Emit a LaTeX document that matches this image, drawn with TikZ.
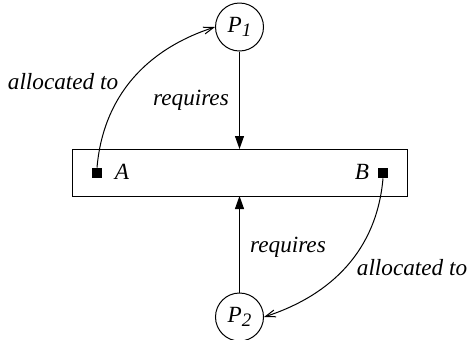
\documentclass[tikz,border=0pt]{standalone}
\usepackage{fontspec}
\setmainfont{Liberation Serif}
\usetikzlibrary{arrows.meta}
\begin{document}
\begin{tikzpicture}[x=0.5pt,y=-0.5pt,
  every node/.style={font=\fontsize{11.6}{13}\selectfont\itshape},
  proc/.style={draw,circle,line width=0.5pt,minimum size=24pt,inner sep=0pt},
  res/.style={draw,rectangle,line width=0.5pt,minimum width=167.5pt,minimum height=23.5pt,inner sep=0pt},
  port/.style={fill=black,rectangle,minimum size=5pt,inner sep=0pt},
  req/.style={line width=0.5pt,-{Triangle[length=6.5pt,width=4.5pt]}},
  alloc/.style={line width=0.5pt,-{Straight Barb[length=5pt,width=3.5pt]}},
  lbl/.style={inner sep=0pt}]
\useasboundingbox (0,0) rectangle (472,339);
\node[res] (R) at (239.5,172.5) {};
\node[proc] (P1) at (239.5,27) {P\raisebox{-0.45ex}{\fontsize{9.5}{10}\selectfont 1}};
\node[proc] (P2) at (239.5,317) {P\raisebox{-0.45ex}{\fontsize{9.5}{10}\selectfont 2}};
\node[port] (A) at (97,173) {};
\node[port] (B) at (383,173) {};
\node[lbl] (Al) at (122,172) {A};
\node[lbl] (Bl) at (362,172) {B};
\coordinate (Rt) at (239.5,149);
\coordinate (Rb) at (239.5,196);
\draw[req] (P1) -- (Rt);
\draw[req] (P2) -- (Rb);
\draw[alloc] (A.north) to[out=85,in=198] (P1.west);
\draw[alloc] (B.south) to[out=-95,in=18] (P2.east);
\node[lbl] (r1) at (191,100) {requires};
\node[lbl] (r2) at (288,247) {requires};
\node[lbl] (a1) at (63,82) {allocated to};
\node[lbl] (a2) at (412,268) {allocated to};
\end{tikzpicture}
\end{document}
